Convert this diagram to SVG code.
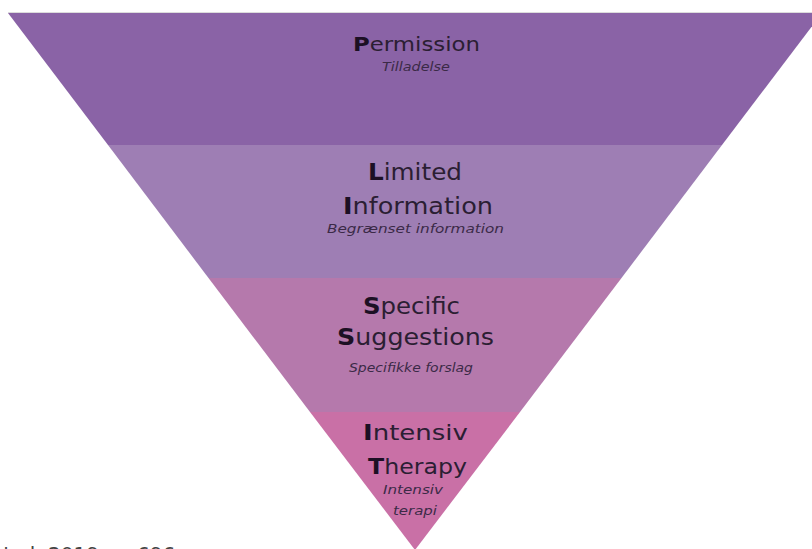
<svg xmlns="http://www.w3.org/2000/svg" width="812" height="549" viewBox="0 0 812 549">
<style>
.main{font-family:"DejaVu Sans","Liberation Sans",sans-serif;fill:#2b1e33;}
.main tspan.b{font-weight:bold;fill:#1c1024;}
.sub{font-family:"DejaVu Sans","Liberation Sans",sans-serif;font-style:italic;font-size:13px;fill:#3b2a47;}
.cite{font-family:"DejaVu Sans","Liberation Sans",sans-serif;font-size:20px;fill:#444;}
</style>
<rect width="812" height="549" fill="#ffffff"/>
<line x1="8" y1="12.5" x2="812" y2="12.5" stroke="#dcdcdc" stroke-width="1"/>
<g id="permission">
<polygon points="8,13 822,13 722,145 108,145" fill="#8a63a6"/>
<text class="main" x="353" y="51" font-size="20" textLength="127" lengthAdjust="spacingAndGlyphs"><tspan class="b">P</tspan>ermission</text>
<text class="sub" x="382" y="71" textLength="68" lengthAdjust="spacingAndGlyphs">Tilladelse</text>
</g>
<g id="limited-information">
<polygon points="108,145 722,145 621.5,278 208.5,278" fill="#9e7eb4"/>
<text class="main" x="368" y="180" font-size="23" textLength="94" lengthAdjust="spacingAndGlyphs"><tspan class="b">L</tspan>imited</text>
<text class="main" x="343" y="214" font-size="23" textLength="150" lengthAdjust="spacingAndGlyphs"><tspan class="b">I</tspan>nformation</text>
<text class="sub" x="327" y="233" textLength="177" lengthAdjust="spacingAndGlyphs">Begrænset information</text>
</g>
<g id="specific-suggestions">
<polygon points="208.5,278 621.5,278 520,412 310,412" fill="#b579ac"/>
<text class="main" x="363" y="314" font-size="23" textLength="97" lengthAdjust="spacingAndGlyphs"><tspan class="b">S</tspan>pecific</text>
<text class="main" x="337" y="345" font-size="23" textLength="157" lengthAdjust="spacingAndGlyphs"><tspan class="b">S</tspan>uggestions</text>
<text class="sub" x="349" y="372" textLength="124" lengthAdjust="spacingAndGlyphs">Specifikke forslag</text>
</g>
<g id="intensiv-therapy">
<polygon points="310,412 520,412 415,550" fill="#c970a6"/>
<text class="main" x="363" y="440" font-size="22" textLength="105" lengthAdjust="spacingAndGlyphs"><tspan class="b">I</tspan>ntensiv</text>
<text class="main" x="368" y="474" font-size="22" textLength="99" lengthAdjust="spacingAndGlyphs"><tspan class="b">T</tspan>herapy</text>
<text class="sub" x="383" y="494" textLength="60" lengthAdjust="spacingAndGlyphs">Intensiv</text>
<text class="sub" x="393" y="515" textLength="44" lengthAdjust="spacingAndGlyphs">terapi</text>
</g>
<g id="connectors"/>
<text class="cite" x="-9" y="561">et al. 2019, p. 696</text>
</svg>
